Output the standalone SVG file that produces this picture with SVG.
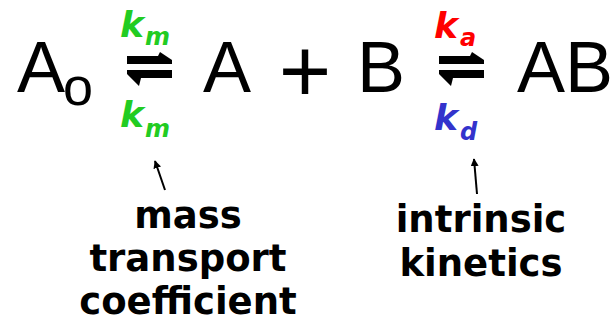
<svg xmlns="http://www.w3.org/2000/svg" width="616" height="326" viewBox="0 0 616 326">
<defs>
<style>
.big{font-family:"Liberation Sans",Arial,sans-serif;font-size:72px;fill:#000}
.k{font-family:"DejaVu Sans",Verdana,sans-serif;font-weight:bold;font-style:italic;font-size:36px}
.sub{font-family:"DejaVu Sans",Verdana,sans-serif;font-weight:bold;font-style:italic;font-size:24px}
.lbl{font-family:"DejaVu Sans",Verdana,sans-serif;font-weight:bold;font-size:37px;fill:#000;text-anchor:middle}
.g{fill:#22cc22}.r{fill:#ff0000}.b{fill:#3333cc}
.eq{fill:#000}
</style>
<marker id="ah" viewBox="0 0 10 10" refX="9" refY="5" markerWidth="4" markerHeight="4" orient="auto" markerUnits="strokeWidth">
<path d="M0,0 L10,5 L0,10 Z" fill="#000"/>
</marker>
<path id="harp" d="M0,4 L31,4 L33,0 L45,8 L45,12 L0,12 Z M0,18 L45,18 L45,26 L14,26 L12,34 L0,22 Z"/>
</defs>
<g id="A0"><text class="big" x="17" y="92">A</text><text class="big" x="63" y="105" style="font-size:54px">o</text></g>
<g id="eq1"><use href="#harp" class="eq" x="127" y="52"/>
<text class="k g" x="120" y="37">k</text><text class="sub g" x="145" y="45">m</text>
<text class="k g" x="120" y="127">k</text><text class="sub g" x="145" y="137">m</text></g>
<g id="A"><text class="big" x="203" y="92">A</text></g>
<g id="plus"><text class="big" x="305" y="102" style="font-size:90px;text-anchor:middle">+</text></g>
<g id="B"><text class="big" x="357" y="92">B</text></g>
<g id="eq2"><use href="#harp" class="eq" x="439" y="52"/>
<text class="k r" x="434" y="38">k</text><text class="sub r" x="460" y="46">a</text>
<text class="k b" x="434" y="130">k</text><text class="sub b" x="460" y="140">d</text></g>
<g id="AB"><text class="big" x="517" y="92">AB</text></g>
<g id="label1"><text class="lbl" x="188" y="228">mass</text><text class="lbl" x="188" y="271">transport</text><text class="lbl" x="188" y="314">coefficient</text></g>
<g id="label2"><text class="lbl" x="481" y="232">intrinsic</text><text class="lbl" x="481" y="276">kinetics</text></g>
<g id="connectors" stroke="#000" stroke-width="2" fill="none">
<line x1="165" y1="190" x2="155" y2="161" marker-end="url(#ah)"/>
<line x1="477" y1="194" x2="474" y2="159" marker-end="url(#ah)"/>
</g>
</svg>
